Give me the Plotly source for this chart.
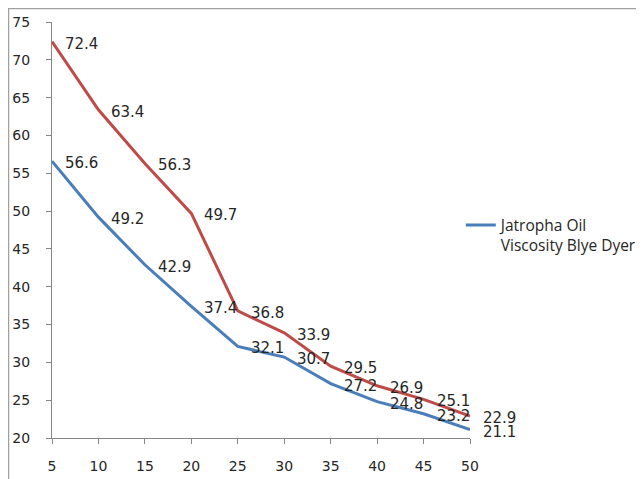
import plotly.graph_objects as go

temps = [5, 10, 15, 20, 25, 30, 35, 40, 45, 50]
blue_vals = [56.6, 49.2, 42.9, 37.4, 32.1, 30.7, 27.2, 24.8, 23.2, 21.1]
red_vals = [72.4, 63.4, 56.3, 49.7, 36.8, 33.9, 29.5, 26.9, 25.1, 22.9]
blue_name = "Jatropha Oil<br>Viscosity Blye Dyer"
y_ticks = [20, 25, 30, 35, 40, 45, 50, 55, 60, 65, 70, 75]
x_ticks = temps

label_font = dict(family="DejaVu Sans", size=15, color="#262626")

fig = go.Figure()
fig.add_trace(go.Scatter(
    x=temps, y=red_vals, mode="lines",
    line=dict(color="#BE4B48", width=3), showlegend=False,
))
fig.add_trace(go.Scatter(
    x=temps, y=blue_vals, mode="lines", name=blue_name,
    line=dict(color="#4A7EBB", width=3),
))

annotations = []
for xs, ys in ((temps, red_vals), (temps, blue_vals)):
    for xv, yv in zip(xs, ys):
        annotations.append(dict(
            x=xv, y=yv, xref="x", yref="y", text=f"{yv:.1f}",
            showarrow=False, xanchor="left", yanchor="middle",
            xshift=11, yshift=-2, font=label_font,
        ))

axis_common = dict(
    showgrid=False, zeroline=False, showline=True, linecolor="#868686",
    linewidth=1, ticks="outside", tickcolor="#868686", ticklen=5,
    tickfont=dict(family="DejaVu Sans", size=14, color="#262626"),
    automargin=False,
)
fig.update_xaxes(range=[5, 50], tickmode="array", tickvals=x_ticks,
                 ticklabelstandoff=10, **axis_common)
fig.update_yaxes(range=[20, 75], tickmode="array", tickvals=y_ticks,
                 ticklabelstandoff=13, **axis_common)

W, H = 636, 471
L, T, PW, PH = 44, 14, 418, 416
fig.update_layout(
    width=W, height=H,
    margin=dict(l=L, r=W - L - PW, t=T, b=H - T - PH, autoexpand=False),
    plot_bgcolor="white", paper_bgcolor="white",
    legend=dict(x=0.978, y=0.487, xanchor="left", yanchor="middle",
                valign="top",
                font=dict(family="Open Sans", size=15.5, color="#262626"),
                bgcolor="rgba(0,0,0,0)"),
    annotations=annotations,
    shapes=[
        dict(type="line", xref="paper", yref="paper",
             x0=(-L + 0.5) / PW, x1=(-L + 0.5) / PW, y0=-1, y1=1 + T / PH,
             line=dict(color="#A0A0A0", width=1.5)),
        dict(type="line", xref="paper", yref="paper",
             x0=-L / PW, x1=2, y0=1 + (T - 0.5) / PH, y1=1 + (T - 0.5) / PH,
             line=dict(color="#A0A0A0", width=1.5)),
    ],
)

fig.write_html("out.html")
